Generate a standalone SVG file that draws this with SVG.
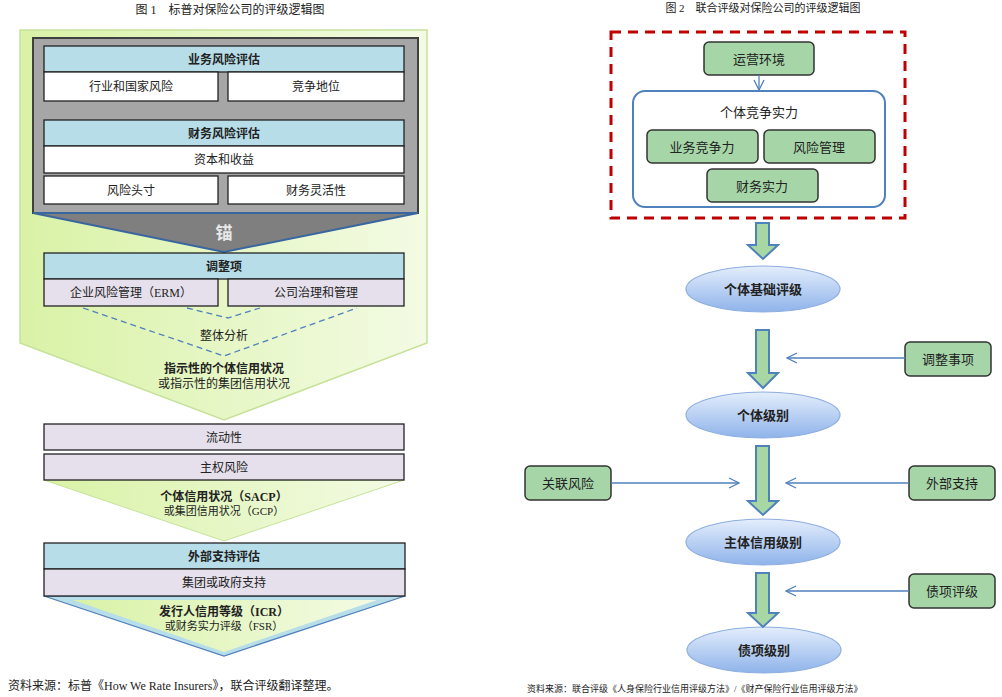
<svg xmlns="http://www.w3.org/2000/svg" width="1002" height="697" viewBox="0 0 1002 697">
<defs>
<linearGradient id="lg" x1="0" y1="0" x2="1" y2="0"><stop offset="0" stop-color="#d9f2a6"/><stop offset="1" stop-color="#f3fbe4"/></linearGradient>
<linearGradient id="eg" x1="0" y1="0" x2="0" y2="1"><stop offset="0" stop-color="#e4eefc"/><stop offset="1" stop-color="#8fb3ea"/></linearGradient>
<marker id="oa" markerWidth="12" markerHeight="12" refX="1" refY="6" orient="auto" markerUnits="userSpaceOnUse"><path d="M11,1 L1,6 L11,11" fill="none" stroke="#4f81bd" stroke-width="1.3"/></marker>
<marker id="oa2" markerWidth="12" markerHeight="12" refX="11" refY="6" orient="auto" markerUnits="userSpaceOnUse"><path d="M1,1 L11,6 L1,11" fill="none" stroke="#4f81bd" stroke-width="1.3"/></marker>
</defs>
<style>
text{font-family:"Liberation Serif","Noto Sans CJK SC",serif;font-size:12px;fill:#222;text-anchor:middle}
.b{font-weight:bold}
.hd{fill:#b7dde8;stroke:#222;stroke-width:1.3}
.wt{fill:#fff;stroke:#222;stroke-width:1.3}
.lv{fill:#e5e0ec;stroke:#222;stroke-width:1.3}
.gb{fill:#a6d6a8;stroke:#333;stroke-width:1.5}
.el{fill:url(#eg);stroke:#8eaee0;stroke-width:1.2}
.fa{fill:#a7d8a4;stroke:#4f81bd;stroke-width:2}
.ln{stroke:#4f81bd;stroke-width:1.3;fill:none}
.r{font-family:"Noto Sans CJK SC",sans-serif;font-size:13px}
</style>
<rect width="1002" height="697" fill="#fff"/>
<text x="230" y="14" style="font-size:12px">图 1　标普对保险公司的评级逻辑图</text>
<g id="left">
<polygon points="20,30 427,30 427,343 224,420 20,343" fill="url(#lg)" stroke="#c6e29a" stroke-width="1.5"/>
<polygon points="33,38 418,38 418,213 224,252 33,213" fill="#7f7f7f"/>
<rect x="33" y="38" width="385" height="175" fill="#a6a6a6" stroke="#404040" stroke-width="2"/>
<polyline points="33,213 224,252 418,213" fill="none" stroke="#3a66a0" stroke-width="2"/>
<line x1="33" y1="213" x2="418" y2="213" stroke="#3a66a0" stroke-width="2"/>
<text x="224" y="239" class="b" style="fill:#e8e8e8;font-size:17px">锚</text>
<g id="n1"><rect class="hd" x="44" y="46" width="360" height="26"/><text x="224" y="64" class="b">业务风险评估</text></g>
<g id="n2"><rect class="wt" x="44" y="72" width="174" height="29"/><text x="131" y="91">行业和国家风险</text></g>
<g id="n3"><rect class="wt" x="228" y="72" width="176" height="29"/><text x="316" y="91">竞争地位</text></g>
<g id="n4"><rect class="hd" x="44" y="120" width="360" height="26"/><text x="224" y="138" class="b">财务风险评估</text></g>
<g id="n5"><rect class="wt" x="44" y="146" width="360" height="27"/><text x="224" y="164">资本和收益</text></g>
<g id="n6"><rect class="wt" x="44" y="176" width="174" height="28"/><text x="131" y="195">风险头寸</text></g>
<g id="n7"><rect class="wt" x="228" y="176" width="176" height="28"/><text x="316" y="195">财务灵活性</text></g>
<g id="n8"><rect class="hd" x="44" y="253" width="360" height="26"/><text x="224" y="271" class="b">调整项</text></g>
<g id="n9"><rect class="lv" x="44" y="279" width="174" height="27"/><text x="131" y="297">企业风险管理（ERM）</text></g>
<g id="n10"><rect class="lv" x="228" y="279" width="176" height="27"/><text x="316" y="297">公司治理和管理</text></g>
<polyline points="83,308 224,356 357,308" fill="none" stroke="#4f81bd" stroke-width="1.3" stroke-dasharray="6,4"/>
<polyline points="187,308 228,318 260,308" fill="none" stroke="#4f81bd" stroke-width="1.3" stroke-dasharray="6,4"/>
<text x="224" y="340">整体分析</text>
<text x="224" y="373" class="b">指示性的个体信用状况</text>
<text x="224" y="388">或指示性的集团信用状况</text>
<polygon points="44,480 404,480 224,541" fill="url(#lg)" stroke="#c6e29a"/>
<g id="n11"><rect class="lv" x="44" y="424" width="360" height="26"/><text x="224" y="442">流动性</text></g>
<g id="n12"><rect class="lv" x="44" y="454" width="360" height="26"/><text x="224" y="472">主权风险</text></g>
<text x="224" y="501" class="b">个体信用状况（SACP）</text>
<text x="224" y="515" style="font-size:11px">或集团信用状况（GCP）</text>
<polygon points="44,596 405,596 224,656" fill="#b7dde8" stroke="#4f81bd" stroke-width="1.3"/>
<polygon points="73,600 377,600 224,652" fill="url(#lg)"/>
<g id="n13"><rect class="hd" x="44" y="543" width="361" height="26"/><text x="224" y="561" class="b">外部支持评估</text></g>
<g id="n14"><rect class="lv" x="44" y="569" width="361" height="27"/><text x="224" y="587">集团或政府支持</text></g>
<text x="224" y="616" class="b">发行人信用等级（ICR）</text>
<text x="224" y="630" style="font-size:11px">或财务实力评级（FSR）</text>
</g>
<text x="8" y="690" style="text-anchor:start;font-size:12px">资料来源：标普《How We Rate Insurers》，联合评级翻译整理。</text>

<text x="763" y="12" style="font-size:11px">图 2　联合评级对保险公司的评级逻辑图</text>
<rect x="611" y="32" width="294" height="186" fill="none" stroke="#c00000" stroke-width="3" stroke-dasharray="10,7"/>
<g id="r1"><rect class="gb" x="704" y="42" width="110" height="33" rx="5"/><text class="r" x="759" y="64">运营环境</text></g>
<g id="r2"><rect x="633" y="91" width="252" height="116" rx="12" fill="#fff" stroke="#4f81bd" stroke-width="2"/><text class="r" x="759" y="117">个体竞争实力</text></g>
<g id="r3"><rect class="gb" x="647" y="130" width="111" height="33" rx="5"/><text class="r" x="702" y="152">业务竞争力</text></g>
<g id="r4"><rect class="gb" x="764" y="130" width="111" height="33" rx="5"/><text class="r" x="819" y="152">风险管理</text></g>
<g id="r5"><rect class="gb" x="707" y="169" width="111" height="33" rx="5"/><text class="r" x="762" y="191">财务实力</text></g>
<g id="r6"><ellipse class="el" cx="763" cy="289" rx="77" ry="23"/><text class="r b" x="763" y="294">个体基础评级</text></g>
<g id="r7"><ellipse class="el" cx="763" cy="415" rx="77" ry="23"/><text class="r b" x="763" y="420">个体级别</text></g>
<g id="r8"><ellipse class="el" cx="763" cy="542" rx="77" ry="23"/><text class="r b" x="763" y="547">主体信用级别</text></g>
<g id="r9"><ellipse class="el" cx="764" cy="650" rx="77" ry="23"/><text class="r b" x="764" y="655">债项级别</text></g>
<g id="r10"><rect class="gb" x="905" y="342" width="86" height="34" rx="5"/><text class="r" x="948" y="364">调整事项</text></g>
<g id="r11"><rect class="gb" x="525" y="466" width="86" height="34" rx="5"/><text class="r" x="568" y="488">关联风险</text></g>
<g id="r12"><rect class="gb" x="909" y="466" width="86" height="34" rx="5"/><text class="r" x="952" y="488">外部支持</text></g>
<g id="r13"><rect class="gb" x="909" y="574" width="86" height="34" rx="5"/><text class="r" x="952" y="596">债项评级</text></g>
<g id="connectors">
<line class="ln" x1="759" y1="75" x2="759" y2="90" marker-end="url(#oa2)"/>
<polygon class="fa" points="756,223 769,223 769,245 778,245 763,259 748,245 756,245"/>
<polygon class="fa" points="756,330 769,330 769,373 778,373 763,388 748,373 756,373"/>
<polygon class="fa" points="756,446 769,446 769,501 778,501 763,515 748,501 756,501"/>
<polygon class="fa" points="756,573 769,573 769,613 778,613 763,627 748,613 756,613"/>
<line class="ln" x1="905" y1="358" x2="787" y2="358" marker-end="url(#oa2)"/>
<line class="ln" x1="611" y1="483" x2="739" y2="483" marker-end="url(#oa2)"/>
<line class="ln" x1="909" y1="483" x2="786" y2="483" marker-end="url(#oa2)"/>
<line class="ln" x1="909" y1="591" x2="786" y2="591" marker-end="url(#oa2)"/>
</g>
<text x="527" y="692" style="text-anchor:start;font-size:9px">资料来源：联合评级《人身保险行业信用评级方法》/《财产保险行业信用评级方法》</text>
</svg>
